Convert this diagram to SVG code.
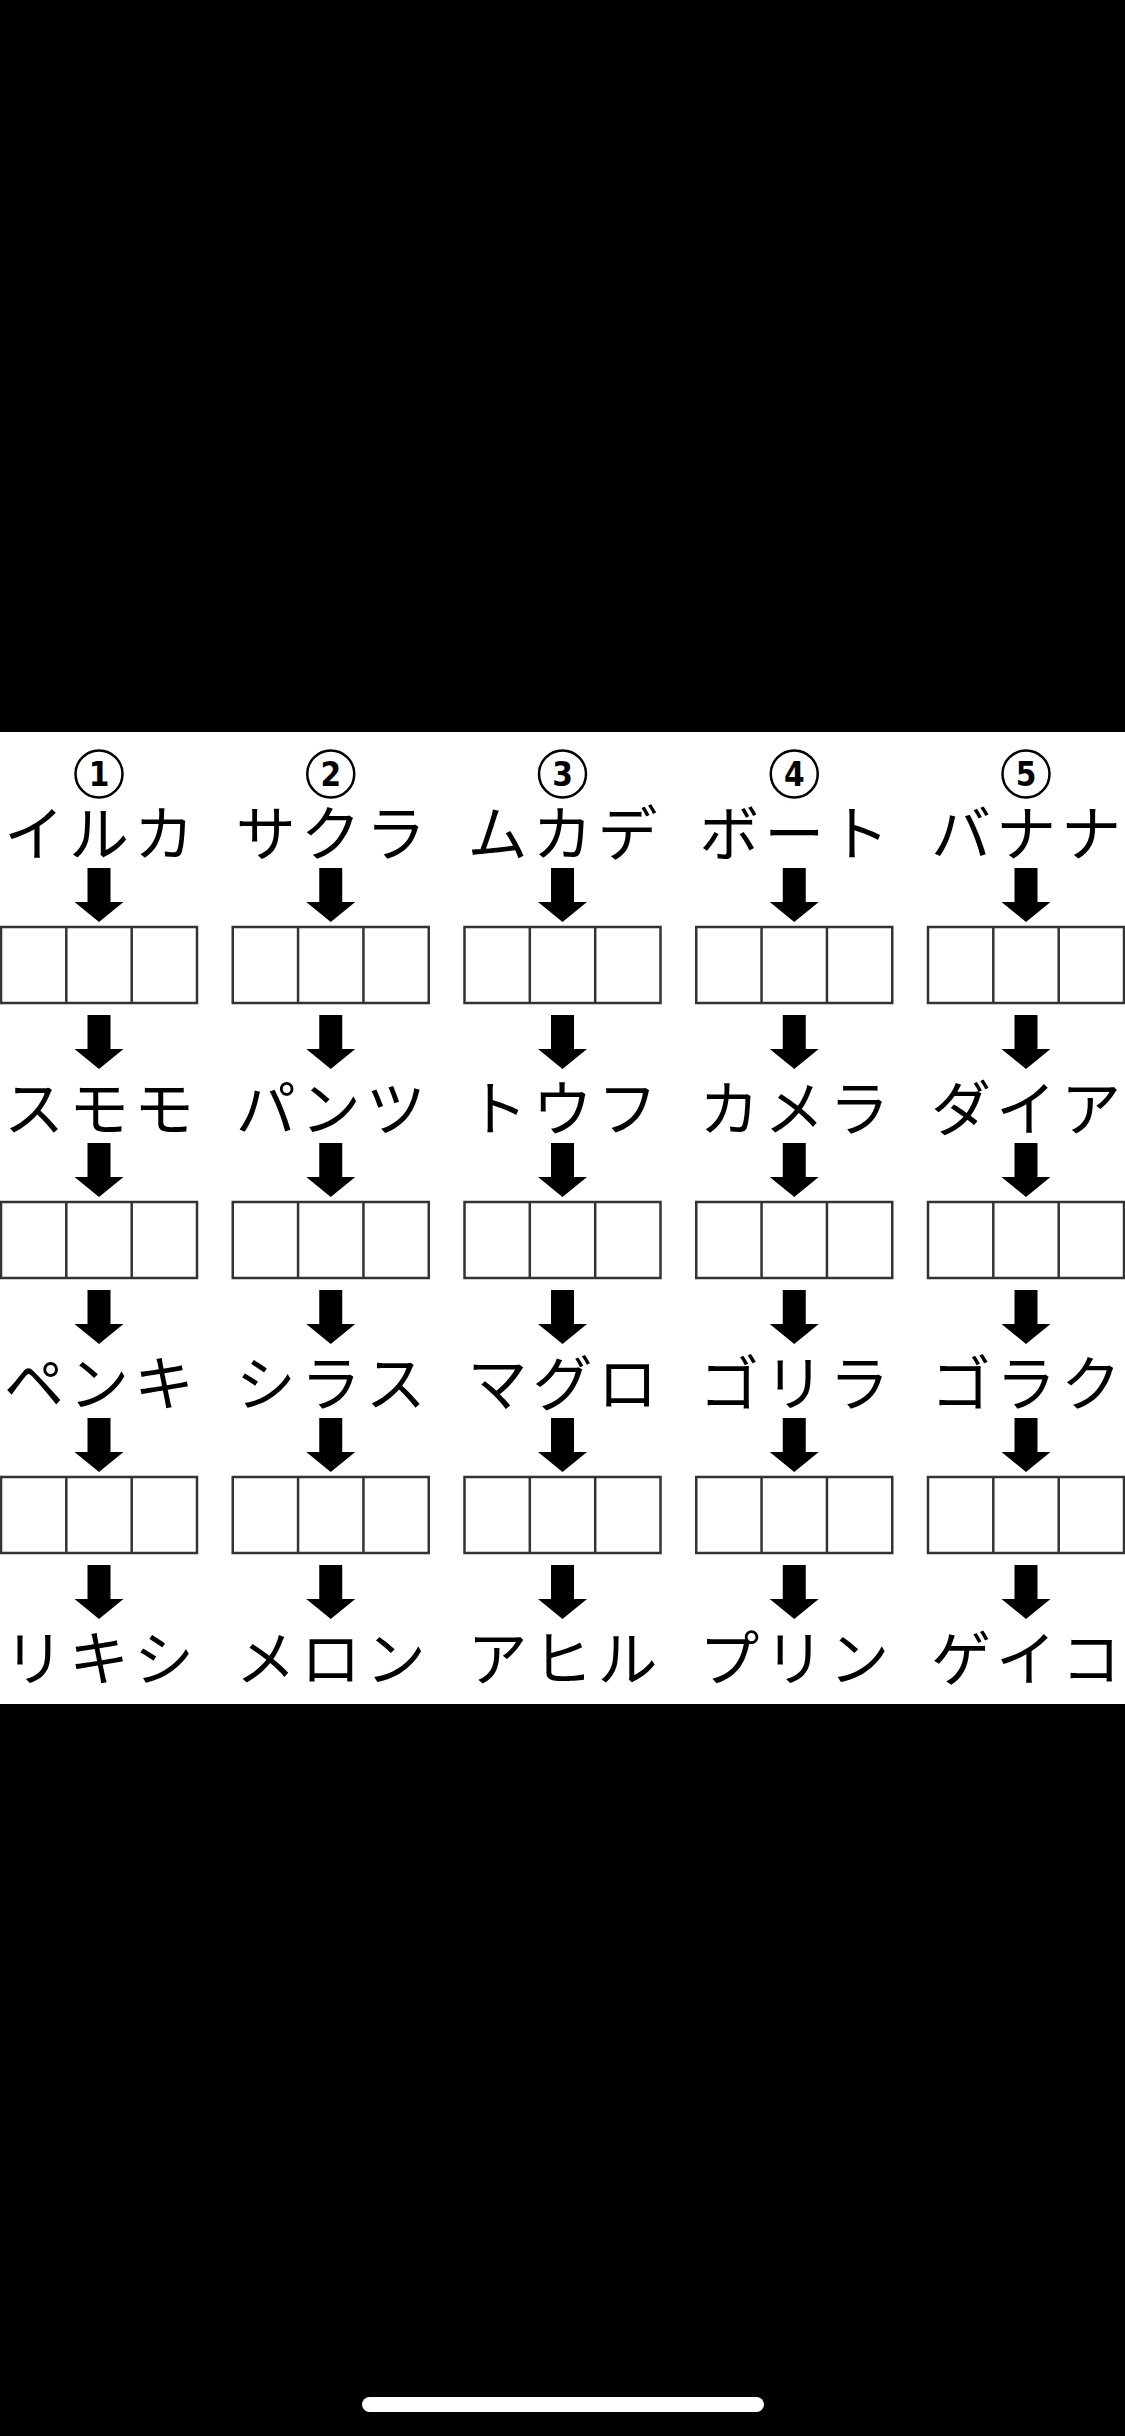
<svg xmlns="http://www.w3.org/2000/svg" xmlns:xlink="http://www.w3.org/1999/xlink" width="1125" height="2436" viewBox="0 0 1125 2436">
<style>
.w{font-family:"Noto Sans CJK JP","Noto Sans CJK SC",sans-serif;font-size:60px;fill:#000;text-anchor:middle}
.n{font-family:"DejaVu Sans Condensed","DejaVu Sans","Liberation Sans",sans-serif;font-weight:bold;font-stretch:condensed;font-size:33px;fill:#000;text-anchor:middle}
.c{fill:none;stroke:#000;stroke-width:2.5}
.b{fill:#fff;stroke:#333;stroke-width:2.5}
.bl{stroke:#333;stroke-width:2.5}
.a{fill:#000}
</style>
<defs>
<path id="arr" class="a" d="M-11.5,0 H11.5 V34 H24.5 L0,54 L-24.5,34 H-11.5 Z"/>
<g id="box"><rect class="b" x="0" y="0" width="196" height="76"/><line class="bl" x1="65.3" y1="0" x2="65.3" y2="76"/><line class="bl" x1="130.7" y1="0" x2="130.7" y2="76"/></g>
</defs>
<rect x="0" y="0" width="1125" height="2436" fill="#000"/>
<rect x="0" y="732" width="1125" height="972" fill="#fff"/>
<rect x="362" y="2397" width="402" height="15" rx="7.5" fill="#fff"/>

<g id="connectors">
<use href="#arr" x="99" y="868"/><use href="#arr" x="99" y="1015"/><use href="#arr" x="99" y="1143"/><use href="#arr" x="99" y="1290"/><use href="#arr" x="99" y="1418"/><use href="#arr" x="99" y="1565"/>
<use href="#arr" x="330.75" y="868"/><use href="#arr" x="330.75" y="1015"/><use href="#arr" x="330.75" y="1143"/><use href="#arr" x="330.75" y="1290"/><use href="#arr" x="330.75" y="1418"/><use href="#arr" x="330.75" y="1565"/>
<use href="#arr" x="562.5" y="868"/><use href="#arr" x="562.5" y="1015"/><use href="#arr" x="562.5" y="1143"/><use href="#arr" x="562.5" y="1290"/><use href="#arr" x="562.5" y="1418"/><use href="#arr" x="562.5" y="1565"/>
<use href="#arr" x="794.25" y="868"/><use href="#arr" x="794.25" y="1015"/><use href="#arr" x="794.25" y="1143"/><use href="#arr" x="794.25" y="1290"/><use href="#arr" x="794.25" y="1418"/><use href="#arr" x="794.25" y="1565"/>
<use href="#arr" x="1026" y="868"/><use href="#arr" x="1026" y="1015"/><use href="#arr" x="1026" y="1143"/><use href="#arr" x="1026" y="1290"/><use href="#arr" x="1026" y="1418"/><use href="#arr" x="1026" y="1565"/>
</g>

<g id="col1">
<g id="num1"><circle class="c" cx="99" cy="774" r="23.5"/><text class="n" x="99" y="786">1</text></g>
<g id="w1a"><text class="w" x="34 99 164" y="856">イルカ</text></g>
<g id="box1a"><use href="#box" x="1" y="927"/></g>
<g id="w1b"><text class="w" x="34 99 164" y="1131">スモモ</text></g>
<g id="box1b"><use href="#box" x="1" y="1202"/></g>
<g id="w1c"><text class="w" x="34 99 164" y="1406">ペンキ</text></g>
<g id="box1c"><use href="#box" x="1" y="1477"/></g>
<g id="w1d"><text class="w" x="34 99 164" y="1681">リキシ</text></g>
</g>

<g id="col2">
<g id="num2"><circle class="c" cx="330.75" cy="774" r="23.5"/><text class="n" x="330.75" y="786">2</text></g>
<g id="w2a"><text class="w" x="265.75 330.75 395.75" y="856">サクラ</text></g>
<g id="box2a"><use href="#box" x="232.75" y="927"/></g>
<g id="w2b"><text class="w" x="265.75 330.75 395.75" y="1131">パンツ</text></g>
<g id="box2b"><use href="#box" x="232.75" y="1202"/></g>
<g id="w2c"><text class="w" x="265.75 330.75 395.75" y="1406">シラス</text></g>
<g id="box2c"><use href="#box" x="232.75" y="1477"/></g>
<g id="w2d"><text class="w" x="265.75 330.75 395.75" y="1681">メロン</text></g>
</g>

<g id="col3">
<g id="num3"><circle class="c" cx="562.5" cy="774" r="23.5"/><text class="n" x="562.5" y="786">3</text></g>
<g id="w3a"><text class="w" x="497.5 562.5 627.5" y="856">ムカデ</text></g>
<g id="box3a"><use href="#box" x="464.5" y="927"/></g>
<g id="w3b"><text class="w" x="497.5 562.5 627.5" y="1131">トウフ</text></g>
<g id="box3b"><use href="#box" x="464.5" y="1202"/></g>
<g id="w3c"><text class="w" x="497.5 562.5 627.5" y="1406">マグロ</text></g>
<g id="box3c"><use href="#box" x="464.5" y="1477"/></g>
<g id="w3d"><text class="w" x="497.5 562.5 627.5" y="1681">アヒル</text></g>
</g>

<g id="col4">
<g id="num4"><circle class="c" cx="794.25" cy="774" r="23.5"/><text class="n" x="794.25" y="786">4</text></g>
<g id="w4a"><text class="w" x="729.25 794.25 859.25" y="856">ボート</text></g>
<g id="box4a"><use href="#box" x="696.25" y="927"/></g>
<g id="w4b"><text class="w" x="729.25 794.25 859.25" y="1131">カメラ</text></g>
<g id="box4b"><use href="#box" x="696.25" y="1202"/></g>
<g id="w4c"><text class="w" x="729.25 794.25 859.25" y="1406">ゴリラ</text></g>
<g id="box4c"><use href="#box" x="696.25" y="1477"/></g>
<g id="w4d"><text class="w" x="729.25 794.25 859.25" y="1681">プリン</text></g>
</g>

<g id="col5">
<g id="num5"><circle class="c" cx="1026" cy="774" r="23.5"/><text class="n" x="1026" y="786">5</text></g>
<g id="w5a"><text class="w" x="961 1026 1091" y="856">バナナ</text></g>
<g id="box5a"><use href="#box" x="928" y="927"/></g>
<g id="w5b"><text class="w" x="961 1026 1091" y="1131">ダイア</text></g>
<g id="box5b"><use href="#box" x="928" y="1202"/></g>
<g id="w5c"><text class="w" x="961 1026 1091" y="1406">ゴラク</text></g>
<g id="box5c"><use href="#box" x="928" y="1477"/></g>
<g id="w5d"><text class="w" x="961 1026 1091" y="1681">ゲイコ</text></g>
</g>
</svg>
